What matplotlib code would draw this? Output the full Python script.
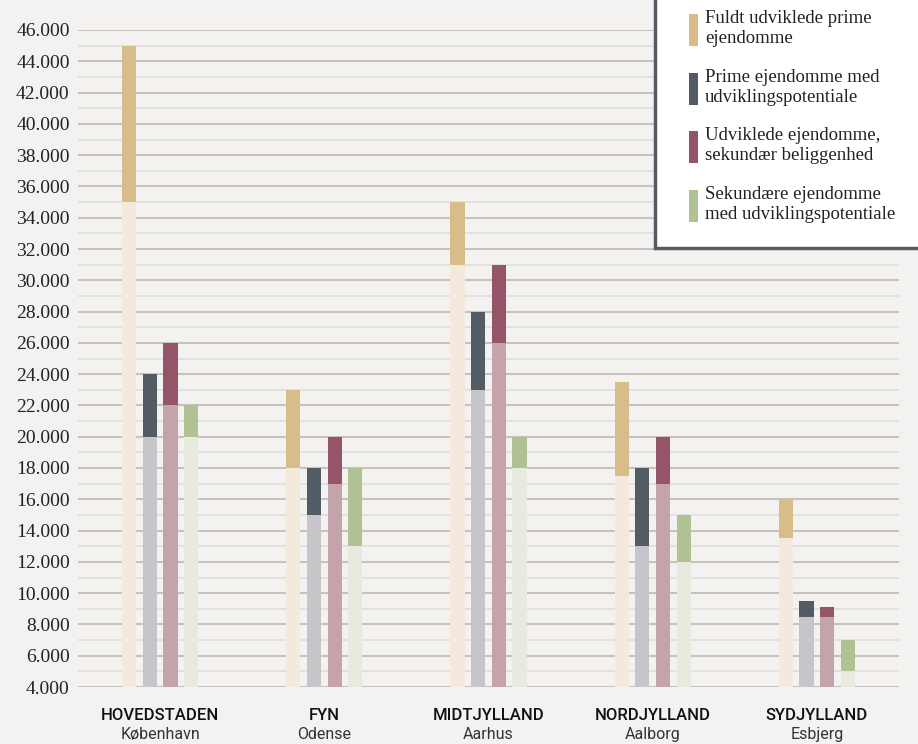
import matplotlib.pyplot as plt
import matplotlib.ticker as mticker
from matplotlib.patches import Rectangle
from matplotlib import font_manager
import numpy as np

regions = ["HOVEDSTADEN", "FYN", "MIDTJYLLAND", "NORDJYLLAND", "SYDJYLLAND"]
cities = ["København", "Odense", "Aarhus", "Aalborg", "Esbjerg"]

segment_labels = [
    "Fuldt udviklede prime\nejendomme",
    "Prime ejendomme med\nudviklingspotentiale",
    "Udviklede ejendomme,\nsekundær beliggenhed",
    "Sekundære ejendomme\nmed udviklingspotentiale",
]

# kr. per m2 ranges (low - high) per region
prime_low = [35000, 18000, 31000, 17500, 13500]
prime_high = [45000, 23000, 35000, 23500, 16000]
prime_dev_low = [20000, 15000, 23000, 13000, 8500]
prime_dev_high = [24000, 18000, 28000, 18000, 9500]
dev_sec_low = [22000, 17000, 26000, 17000, 8500]
dev_sec_high = [26000, 20000, 31000, 20000, 9100]
sec_dev_low = [20000, 13000, 18000, 12000, 5000]
sec_dev_high = [22000, 18000, 20000, 15000, 7000]

base = 4000
y_top = 46000

dark_colors = ["#d8bd8b", "#535b65", "#935567", "#b0c194"]
light_colors = ["#f4e9dc", "#c6c5ca", "#c5a3ab", "#e6eadf"]

bg = "#f4f2f0"

fig = plt.figure(figsize=(9.18, 7.44), dpi=100, facecolor=bg)
ax = fig.add_axes([78 / 918, 57 / 744, 821 / 918, 657 / 744], facecolor=bg)

x = np.arange(len(regions))
bar_w = 0.086
step = 0.126
ranges = [
    (prime_low, prime_high),
    (prime_dev_low, prime_dev_high),
    (dev_sec_low, dev_sec_high),
    (sec_dev_low, sec_dev_high),
]
for k, (lo, hi) in enumerate(ranges):
    lo = np.array(lo)
    hi = np.array(hi)
    xpos = x + (k - 1.5) * step
    ax.bar(xpos, lo - base, bottom=base, width=bar_w, color=light_colors[k], linewidth=0)
    ax.bar(xpos, hi - lo, bottom=lo, width=bar_w, color=dark_colors[k], linewidth=0)

ax.set_xlim(-0.5, len(regions) - 0.5)
ax.set_ylim(base, y_top)
ax.set_axisbelow(True)

ax.yaxis.set_major_locator(mticker.MultipleLocator(2000))
ax.yaxis.set_minor_locator(mticker.MultipleLocator(1000))
ax.yaxis.set_major_formatter(
    mticker.FuncFormatter(lambda v, _: f"{int(v):,}".replace(",", "."))
)
ax.grid(True, which="major", axis="y", color="#c6c4ba", linewidth=1.5)
ax.grid(True, which="minor", axis="y", color="#e2e0dc", linewidth=1.3)
ax.tick_params(axis="y", which="both", length=0, pad=6, labelsize=14,
               labelcolor="#222222")
for lab in ax.get_yticklabels():
    lab.set_fontfamily("Liberation Serif")
ax.set_xticks([])
for s in ax.spines.values():
    s.set_visible(False)

# region and city names under each group
names = [f.name for f in font_manager.fontManager.ttflist]
cat_font = "Liberation Sans Narrow" if "Liberation Sans Narrow" in names else "Roboto"
trans = ax.get_xaxis_transform()
for xi, reg, city in zip(x, regions, cities):
    ax.text(xi, -0.043, reg, transform=trans, ha="center", va="center",
            fontsize=12, family=cat_font, color="#111111", weight="medium")
    ax.text(xi, -0.073, city, transform=trans, ha="center", va="center",
            fontsize=11.5, family=cat_font, color="#333333")

# legend box, running off the top right corner
fig.patches.append(Rectangle((655 / 918, 1 - 248 / 744), 0.5, 0.5,
                             transform=fig.transFigure, facecolor="white",
                             edgecolor="#555c66", linewidth=2.5, zorder=5))
entry_tops = [14, 73, 131, 190]
for k, (lab, top) in enumerate(zip(segment_labels, entry_tops)):
    fig.patches.append(Rectangle((689 / 918, 1 - (top + 32) / 744), 9 / 918, 32 / 744,
                                 transform=fig.transFigure, facecolor=dark_colors[k],
                                 linewidth=0, zorder=6))
    fig.text(705 / 918, 1 - (top - 4) / 744, lab, ha="left", va="top",
             fontsize=13.5, family="Liberation Serif", color="#222222",
             linespacing=1.2, zorder=7)

fig.savefig("out.png", dpi=100, facecolor=bg)
